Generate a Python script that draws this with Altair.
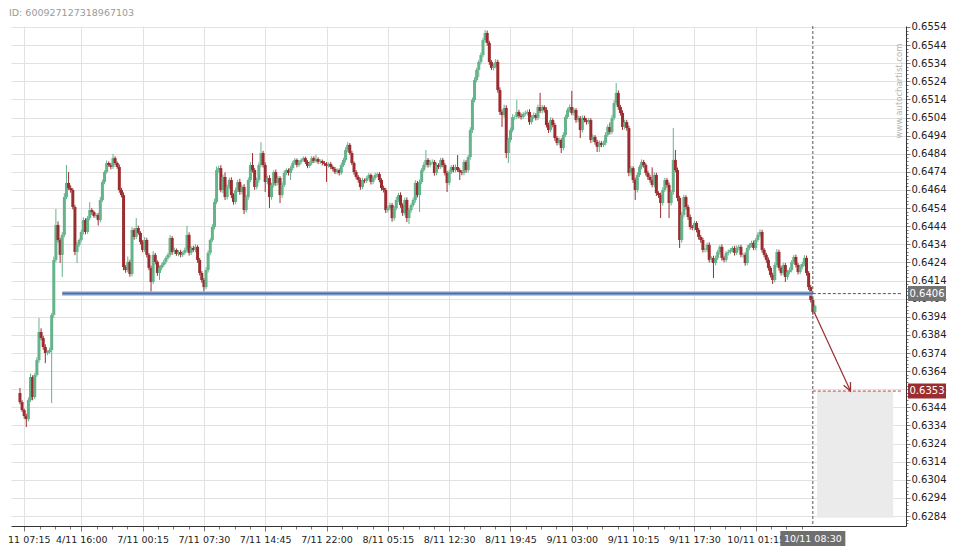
import json
import altair as alt
import pandas as pd

# ---------------- data (prices in 0.0001 units) ----------------
first_open = 6351.9
closes = [
    6346.9, 6342.5, 6339.2, 6337.5, 6348.0, 6360.7, 6349.7, 6361.8, 6370.1, 6385.6,
    6382.3, 6377.3, 6374.0, 6374.5, 6375.6, 6395.0, 6425.4, 6444.7, 6436.4, 6428.2,
    6439.2, 6460.1, 6467.9, 6465.1, 6464.0, 6454.6, 6429.8, 6433.7, 6436.4, 6440.8,
    6447.4, 6440.8, 6448.5, 6452.9, 6451.8, 6449.6, 6450.2, 6447.4, 6458.5, 6468.4,
    6473.9, 6478.9, 6477.8, 6476.7, 6481.6, 6478.9, 6476.7, 6464.0, 6461.2, 6421.5,
    6419.8, 6424.3, 6417.6, 6441.9, 6438.1, 6443.0, 6440.3, 6435.3, 6430.9, 6436.4,
    6428.2, 6421.0, 6413.2, 6428.2, 6424.3, 6418.2, 6421.0, 6422.6, 6424.3, 6426.5,
    6428.2, 6437.5, 6429.8, 6430.9, 6428.7, 6429.8, 6428.2, 6429.3, 6430.9, 6439.2,
    6429.3, 6432.0, 6430.9, 6432.6, 6425.4, 6418.2, 6414.3, 6410.4, 6419.8, 6429.3,
    6436.4, 6443.6, 6457.4, 6475.0, 6476.1, 6464.0, 6471.2, 6460.1, 6465.7, 6469.5,
    6461.2, 6457.4, 6464.0, 6468.4, 6462.9, 6465.7, 6452.9, 6460.1, 6469.5, 6477.8,
    6475.0, 6465.7, 6469.5, 6477.8, 6484.4, 6477.8, 6468.4, 6470.6, 6460.1, 6466.8,
    6473.9, 6467.9, 6470.6, 6461.2, 6466.8, 6473.4, 6475.0, 6473.4, 6476.1, 6478.9,
    6480.6, 6477.8, 6479.5, 6480.6, 6481.6, 6479.5, 6477.3, 6478.9, 6481.6, 6480.0,
    6481.1, 6479.5, 6480.0, 6478.9, 6478.4, 6477.3, 6478.4, 6476.7, 6475.6, 6473.9,
    6475.0, 6473.4, 6477.8, 6480.6, 6486.1, 6488.9, 6484.4, 6478.9, 6473.9, 6471.2,
    6469.5, 6465.7, 6469.5, 6469.0, 6470.6, 6472.3, 6468.4, 6470.6, 6472.3, 6472.8,
    6469.5, 6465.1, 6464.0, 6452.9, 6454.0, 6455.7, 6448.5, 6454.0, 6458.5, 6461.2,
    6455.7, 6451.3, 6458.5, 6448.5, 6452.9, 6455.7, 6458.5, 6467.9, 6461.2, 6468.4,
    6475.0, 6477.8, 6480.6, 6477.8, 6479.5, 6479.5, 6473.4, 6477.8, 6476.7, 6480.6,
    6477.8, 6473.4, 6467.9, 6473.9, 6476.7, 6475.0, 6476.7, 6475.0, 6473.9, 6473.4,
    6479.5, 6475.0, 6482.2, 6497.1, 6513.7, 6524.7, 6530.3, 6534.7, 6538.5, 6546.8,
    6550.7, 6545.2, 6534.7, 6531.4, 6532.5, 6534.7, 6519.2, 6507.1, 6505.4, 6509.3,
    6484.4, 6491.6, 6497.1, 6504.3, 6504.3, 6507.1, 6504.9, 6504.3, 6506.0, 6506.5,
    6507.1, 6501.5, 6504.3, 6505.4, 6503.8, 6509.8, 6507.6, 6509.8, 6508.2, 6499.9,
    6497.1, 6502.6, 6499.9, 6492.7, 6490.0, 6491.6, 6487.2, 6494.4, 6504.3, 6508.2,
    6509.8, 6506.5, 6508.2, 6502.6, 6503.8, 6497.1, 6503.8, 6502.6, 6501.5, 6502.6,
    6491.6, 6493.3, 6490.5, 6487.8, 6490.0, 6488.9, 6490.0, 6494.4, 6498.8, 6496.0,
    6503.8, 6512.0, 6517.6, 6509.8, 6506.5, 6498.8, 6501.5, 6498.2, 6473.4, 6476.1,
    6469.5, 6464.0, 6472.3, 6476.7, 6479.5, 6477.8, 6473.4, 6471.2, 6469.5, 6466.8,
    6472.3, 6462.3, 6461.2, 6456.8, 6464.0, 6469.5, 6466.8, 6456.8, 6462.9, 6480.6,
    6475.0, 6459.6, 6436.4, 6450.2, 6460.1, 6454.6, 6449.1, 6443.6, 6443.0, 6445.8,
    6441.9, 6438.1, 6436.4, 6430.9, 6430.9, 6433.7, 6425.4, 6426.5, 6423.7, 6426.5,
    6429.8, 6432.6, 6426.5, 6425.4, 6429.3, 6429.8, 6430.9, 6432.0, 6429.3, 6432.0,
    6432.6, 6428.2, 6428.2, 6423.7, 6432.0, 6433.7, 6434.8, 6432.0, 6436.4, 6439.2,
    6440.8, 6430.9, 6428.2, 6425.4, 6421.0, 6417.1, 6414.3, 6422.6, 6429.8, 6421.0,
    6418.2, 6422.6, 6416.0, 6418.7, 6419.8, 6424.3, 6427.0, 6422.6, 6418.7, 6421.5,
    6423.2, 6426.5, 6418.2, 6410.4, 6403.3, 6396.6, 6399.9,
]
# upper wick above the body top, lower wick below the body bottom (0.0001 units)
wick_up = [
    2.8, 1.0, 0.8, 1.2, 1.5, 2.0, 1.0, 1.1, 1.5, 7.7,
    2.0, 1.2, 1.5, 1.0, 1.3, 1.1, 1.8, 8.8, 2.0, 1.2,
    1.5, 2.2, 9.9, 6.0, 1.5, 1.0, 1.2, 1.4, 0.9, 1.3,
    1.5, 1.0, 1.2, 4.4, 1.1, 0.8, 1.0, 1.2, 1.6, 1.3,
    1.0, 1.4, 0.9, 1.2, 2.3, 1.0, 0.8, 1.4, 1.2, 1.5,
    1.0, 3.0, 1.2, 1.5, 1.1, 5.5, 1.3, 0.9, 1.0, 1.6,
    1.2, 1.0, 1.3, 2.0, 1.1, 0.8, 1.4, 1.0, 1.2, 0.9,
    1.1, 1.6, 1.0, 1.3, 0.8, 1.0, 1.2, 0.9, 1.3, 5.0,
    1.4, 1.0, 1.2, 1.5, 0.9, 1.1, 1.0, 1.2, 1.6, 1.3,
    1.0, 1.5, 1.8, 2.0, 1.2, 1.6, 1.4, 2.5, 1.2, 1.3,
    1.5, 1.0, 1.3, 1.2, 1.8, 1.0, 1.5, 1.2, 1.4, 1.6,
    6.6, 1.0, 1.3, 1.4, 6.0, 1.2, 1.5, 1.3, 1.6, 1.2,
    1.0, 1.4, 1.2, 1.0, 1.3, 1.5, 1.0, 0.9, 1.2, 1.1,
    1.0, 0.8, 1.1, 0.9, 1.0, 0.8, 1.0, 0.9, 1.2, 1.0,
    2.5, 0.9, 1.0, 0.8, 1.1, 1.0, 0.9, 1.0, 0.8, 1.1,
    1.0, 0.9, 1.3, 1.2, 1.5, 1.5, 1.0, 1.2, 0.9, 1.1,
    1.0, 1.2, 1.3, 0.9, 1.0, 1.1, 0.8, 1.0, 1.2, 0.9,
    1.1, 1.0, 1.3, 1.2, 1.0, 1.4, 1.1, 1.3, 1.6, 1.2,
    1.5, 1.0, 1.3, 1.4, 1.1, 1.0, 1.3, 1.5, 1.1, 1.4,
    1.2, 1.6, 5.5, 1.0, 1.2, 1.4, 1.1, 1.3, 1.0, 1.2,
    1.1, 1.0, 1.2, 1.3, 1.0, 1.2, 1.4, 6.6, 1.0, 1.1,
    1.3, 1.0, 1.2, 1.5, 1.3, 1.6, 1.2, 1.0, 1.4, 1.2,
    1.6, 1.3, 1.2, 1.0, 1.4, 1.6, 1.2, 1.5, 1.3, 1.8,
    1.5, 1.2, 1.4, 1.6, 1.0, 6.6, 1.2, 1.4, 1.0, 1.3,
    1.2, 1.5, 1.1, 1.4, 1.0, 1.3, 7.8, 1.2, 1.0, 1.5,
    1.3, 1.6, 1.0, 1.2, 1.1, 1.4, 1.0, 1.5, 1.3, 1.2,
    1.4, 8.9, 1.2, 1.0, 1.3, 1.1, 1.4, 1.2, 1.0, 1.3,
    1.1, 1.3, 1.0, 1.2, 1.4, 1.0, 1.2, 1.5, 1.3, 2.5,
    1.6, 1.5, 5.5, 1.4, 1.2, 1.5, 1.3, 1.2, 1.4, 1.2,
    1.0, 1.3, 1.5, 1.2, 1.4, 1.1, 1.0, 1.3, 1.2, 7.0,
    1.4, 1.2, 1.0, 1.3, 1.5, 1.2, 1.1, 1.3, 1.2, 17.7,
    5.5, 1.4, 1.2, 1.6, 1.3, 1.0, 1.2, 1.4, 1.1, 1.3,
    1.0, 1.2, 1.1, 1.3, 1.0, 1.2, 1.4, 1.0, 1.2, 1.3,
    1.1, 1.0, 1.4, 1.2, 1.0, 1.3, 1.1, 1.0, 1.2, 1.4,
    1.0, 1.2, 1.1, 1.3, 1.5, 1.0, 1.2, 1.3, 1.1, 1.4,
    1.5, 1.2, 1.0, 1.1, 1.3, 1.0, 1.2, 1.4, 1.6, 1.2,
    1.0, 1.3, 1.1, 1.2, 1.4, 1.0, 1.2, 1.3, 1.1, 1.4,
    1.2, 1.5, 1.3, 1.0, 1.2, 1.4, 0.8,
]
wick_dn = [
    1.2, 1.0, 1.5, 4.4, 1.3, 1.0, 1.8, 1.2, 1.0, 1.5,
    1.3, 1.5, 5.6, 1.2, 1.0, 29.2, 1.5, 1.2, 1.4, 4.5,
    12.2, 1.3, 1.2, 1.0, 1.5, 1.3, 1.8, 6.1, 1.2, 1.0,
    1.4, 1.3, 1.0, 1.2, 1.5, 1.0, 1.2, 3.0, 1.3, 1.1,
    1.2, 0.9, 1.0, 1.3, 1.1, 1.2, 1.0, 1.5, 1.3, 1.8,
    1.5, 1.2, 1.5, 1.3, 1.6, 1.2, 1.0, 1.4, 1.3, 1.1,
    1.5, 1.3, 5.5, 1.2, 1.4, 1.6, 3.9, 1.3, 1.0, 1.2,
    1.0, 1.3, 1.5, 1.2, 1.0, 1.3, 1.4, 1.1, 1.0, 1.2,
    1.5, 1.2, 1.0, 1.3, 1.6, 1.4, 1.5, 3.3, 1.2, 1.4,
    1.3, 1.1, 1.4, 1.2, 1.5, 1.3, 1.8, 1.6, 1.4, 1.2,
    1.7, 1.5, 1.3, 1.2, 1.6, 1.4, 2.2, 1.3, 1.5, 1.2,
    1.4, 1.6, 1.3, 1.5, 1.2, 1.4, 5.5, 1.3, 6.0, 1.5,
    1.3, 1.6, 1.4, 4.4, 1.5, 1.2, 1.3, 1.4, 3.9, 1.2,
    1.1, 1.3, 1.0, 1.2, 0.9, 1.1, 1.3, 1.0, 1.2, 1.1,
    1.0, 1.2, 1.1, 1.3, 1.2, 8.8, 1.0, 1.2, 1.3, 1.1,
    1.2, 1.4, 1.0, 1.1, 1.3, 1.2, 1.0, 1.2, 1.4, 1.3,
    1.5, 1.6, 1.2, 1.3, 1.1, 1.0, 1.4, 1.2, 1.0, 1.2,
    1.3, 1.5, 1.4, 1.6, 1.3, 1.2, 2.0, 1.4, 1.2, 1.3,
    1.5, 1.6, 1.3, 2.2, 3.3, 1.4, 1.2, 1.5, 1.3, 9.4,
    1.2, 1.1, 1.3, 1.4, 1.2, 1.0, 1.5, 1.3, 1.2, 1.0,
    1.3, 1.4, 5.0, 1.2, 1.1, 1.3, 1.2, 1.0, 4.4, 1.3,
    1.2, 1.5, 1.3, 1.4, 1.6, 1.3, 1.2, 3.9, 1.4, 1.2,
    1.3, 1.5, 1.6, 1.2, 1.4, 1.3, 1.5, 1.6, 6.6, 1.3,
    2.8, 5.5, 1.3, 1.2, 1.5, 1.2, 1.3, 1.4, 1.1, 1.2,
    1.3, 1.5, 1.2, 1.0, 1.4, 1.2, 1.1, 1.3, 1.5, 1.4,
    1.6, 1.2, 1.3, 1.5, 1.4, 1.2, 2.8, 1.3, 1.2, 1.1,
    1.3, 1.2, 1.4, 1.5, 1.2, 4.4, 1.3, 1.2, 1.4, 1.1,
    1.6, 1.3, 1.5, 2.8, 2.8, 1.3, 1.2, 1.4, 1.1, 1.3,
    1.2, 1.4, 1.3, 1.5, 1.4, 1.6, 1.3, 1.5, 1.8, 1.4,
    1.6, 5.5, 1.4, 1.2, 1.3, 1.5, 1.4, 1.6, 1.5, 1.3,
    1.4, 1.6, 1.5, 8.3, 1.4, 1.2, 1.5, 8.3, 1.4, 1.5,
    1.3, 1.8, 4.4, 1.5, 1.3, 1.4, 1.6, 1.5, 1.2, 1.4,
    1.3, 1.5, 1.6, 1.4, 1.3, 1.2, 1.5, 1.4, 8.3, 1.3,
    1.2, 1.4, 1.5, 1.3, 1.2, 1.4, 1.1, 1.3, 1.5, 1.2,
    1.4, 1.3, 1.6, 1.5, 1.2, 1.3, 1.4, 1.2, 1.3, 1.1,
    1.3, 1.5, 1.4, 1.6, 1.5, 1.4, 2.2, 1.3, 1.2, 1.5,
    1.4, 1.3, 2.8, 1.5, 1.2, 1.3, 1.1, 1.4, 1.3, 1.2,
    1.3, 1.2, 1.5, 1.6, 1.4, 1.5, 1.0,
]

x_tick_pos = [2, 29, 58, 87, 116, 145, 174, 203, 232, 261, 290, 319, 348]
x_tick_labels = ["4/11 07:15", "4/11 16:00", "7/11 00:15", "7/11 07:30", "7/11 14:45",
                 "7/11 22:00", "8/11 05:15", "8/11 12:30", "8/11 19:45", "9/11 03:00",
                 "9/11 10:15", "9/11 17:30", "10/11 01:15"]
current_idx = 375
current_label = "10/11 08:30"

y_tick_labels = ["0.6284", "0.6294", "0.6304", "0.6314", "0.6324", "0.6334", "0.6344",
                 "0.6354", "0.6364", "0.6374", "0.6384", "0.6394", "0.6404", "0.6414",
                 "0.6424", "0.6434", "0.6444", "0.6454", "0.6464", "0.6474", "0.6484",
                 "0.6494", "0.6504", "0.6514", "0.6524", "0.6534", "0.6544", "0.6554"]

support_level = 0.64068
support_text = "0.6406"
support_start = 20
target_level = 0.6353
target_text = "0.6353"
target_box = {"i0": 377, "i1": 413, "p0": 0.6353, "p1": 0.6283}
arrow_start = {"i": 375.6, "p": 0.63966}
arrow_end = {"i": 392.8, "p": 0.63530}
id_text = "ID: 600927127318967103"
watermark = "www.autochartist.com"

GREEN = "#64b38b"
RED = "#9b2d30"

# ---------------- table ----------------
opens = [first_open] + closes[:-1]
rows = []
for i, (o, c, wu, wd) in enumerate(zip(opens, closes, wick_up, wick_dn)):
    rows.append({
        "i": i,
        "o": o / 10000, "c": c / 10000,
        "h": (max(o, c) + wu) / 10000, "l": (min(o, c) - wd) / 10000,
        "dir": "up" if c >= o else "down",
    })
df = pd.DataFrame(rows)

W, H = 895, 500
x_dom = [-1.87, 416.7]
y_dom = [0.627848, 0.655455]
xs = alt.Scale(domain=x_dom, nice=False, zero=False)
ys = alt.Scale(domain=y_dom, nice=False, zero=False)

minor_x = []
for m in x_tick_pos:
    minor_x += [m + 7.25, m + 14.5, m + 21.75]
x_values = sorted(x_tick_pos + minor_x)
xv = json.dumps(x_tick_pos)
xl = json.dumps(x_tick_labels)
x_major_test = f"indexof({xv}, datum.value) >= 0"

y_values = [round(0.6280 + 0.0002 * k, 4) for k in range(138)]
y_major_test = "round(datum.value * 10000) % 10 == 4"

xaxis = alt.Axis(
    values=x_values, title=None,
    labelExpr=f"{x_major_test} ? {xl}[indexof({xv}, datum.value)] : ''",
    grid=True, gridColor="#e2e2e2",
    gridOpacity={"condition": {"test": x_major_test, "value": 1}, "value": 0},
    tickSize={"condition": {"test": x_major_test, "value": 5}, "value": 3},
    tickColor="#777", domainColor="#333", labelColor="#222",
    labelFont="DejaVu Sans", labelFontSize=9.5, labelPadding=3,
    labelOverlap=False, labelFlush=False, labelBound=False,
)
yaxis = alt.Axis(
    values=y_values, orient="right", title=None,
    labelExpr=f"{y_major_test} ? format(datum.value, '.4f') : ''",
    grid=True, gridColor="#e2e2e2",
    gridOpacity={"condition": {"test": y_major_test, "value": 1}, "value": 0},
    tickSize={"condition": {"test": y_major_test, "value": 4}, "value": 2},
    tickColor="#777", domainColor="#333", labelColor="#222",
    labelFont="DejaVu Sans", labelFontSize=10, labelPadding=1,
    labelOverlap=False, labelBaseline="middle",
)


def X(field, **kw):
    return alt.X(field, type="quantitative", scale=xs, axis=xaxis, **kw)


def Y(field, **kw):
    return alt.Y(field, type="quantitative", scale=ys, axis=yaxis, **kw)


color = alt.Color("dir:N", scale=alt.Scale(domain=["up", "down"], range=[GREEN, RED]), legend=None)

base = alt.Chart(df)
wicks = base.mark_rule(strokeWidth=1).encode(x=X("i"), y=Y("l"), y2="h", color=color)
bodies = base.mark_bar(size=3).encode(x=X("i"), y=Y("o"), y2="c", color=color)

# target zone
zone_df = pd.DataFrame([target_box])
zone = alt.Chart(zone_df).mark_rect(color="#ebebeb").encode(
    x=X("i0"), x2="i1", y=Y("p0"), y2="p1")

# support line
sup_df = pd.DataFrame([{"i0": support_start, "i1": current_idx, "p": support_level}])
sup_glow = alt.Chart(sup_df).mark_rule(color="#a8bbdb", strokeWidth=4.5).encode(
    x=X("i0"), x2="i1", y=Y("p"))
sup_line = alt.Chart(sup_df).mark_rule(color="#4a70ad", strokeWidth=2).encode(
    x=X("i0"), x2="i1", y=Y("p"))

# dashed extensions to the right axis
ext_s = alt.Chart(pd.DataFrame([{"i0": current_idx, "i1": x_dom[1], "p": support_level}])).mark_rule(
    strokeWidth=1, strokeDash=[3, 2], color="#555555").encode(x=X("i0"), x2="i1", y=Y("p"))
ext_t = alt.Chart(pd.DataFrame([{"i0": current_idx, "i1": x_dom[1], "p": target_level}])).mark_rule(
    strokeWidth=1, strokeDash=[3, 2], color="#b5484b").encode(x=X("i0"), x2="i1", y=Y("p"))

# vertical current-time line
cur_df = pd.DataFrame([{"i": current_idx}])
cur = alt.Chart(cur_df).mark_rule(color="#555555", strokeWidth=1, strokeDash=[3, 2]).encode(
    x=X("i"), y=alt.value(0), y2=alt.value(H))

# arrow
arr_df = pd.DataFrame([
    {"i": arrow_start["i"], "p": arrow_start["p"], "o": 0},
    {"i": arrow_end["i"], "p": arrow_end["p"], "o": 1},
])
arrow = alt.Chart(arr_df).mark_line(color=RED, strokeWidth=1.2).encode(
    x=X("i"), y=Y("p"), order="o:Q")
head = alt.Chart(pd.DataFrame([arrow_end])).mark_point(
    shape="M -0.47 -1 L 0 0 L 0.47 -1", filled=False, color=RED, strokeWidth=1.3,
    size=260, angle=335, opacity=1).encode(x=X("i"), y=Y("p"))

# right-hand price labels
def price_label(level, text, fill):
    d = pd.DataFrame([{"p": level, "t": text}])
    box = alt.Chart(d).mark_tick(orient="horizontal", size=38, thickness=15, opacity=1, color=fill).encode(
        x=alt.value(916), y=Y("p"))
    txt = alt.Chart(d).mark_text(color="white", font="DejaVu Sans", fontSize=10,
                                 align="center", baseline="middle").encode(
        x=alt.value(916), y=Y("p"), text="t:N")
    return box, txt


sbox, stxt = price_label(support_level, support_text, "#737373")
tbox, ttxt = price_label(target_level, target_text, RED)

# current time label at the bottom
ct_df = pd.DataFrame([{"i": current_idx, "t": current_label}])
ct_box = alt.Chart(ct_df).mark_tick(orient="vertical", size=15, thickness=65, color="#6e6e6e", opacity=1).encode(
    x=X("i"), y=alt.value(H + 12.5))
ct_txt = alt.Chart(ct_df).mark_text(color="white", font="DejaVu Sans", fontSize=9.5,
                                    align="center", baseline="middle").encode(
    x=X("i"), y=alt.value(H + 13), text="t:N")

# texts
idt = alt.Chart(pd.DataFrame([{"t": id_text}])).mark_text(
    color="#9a9a9a", font="DejaVu Sans", fontSize=9.5, align="left", baseline="middle").encode(
    x=alt.value(-2), y=alt.value(-13), text="t:N")
wm = alt.Chart(pd.DataFrame([{"t": watermark}])).mark_text(
    color="#b5b5b5", font="DejaVu Sans", fontSize=8.5, angle=270, align="center", baseline="middle").encode(
    x=alt.value(888), y=alt.value(65), text="t:N")

chart = alt.layer(
    zone, wicks, bodies, sup_glow, sup_line, ext_s, ext_t, cur, arrow, head,
    sbox, stxt, tbox, ttxt, ct_box, ct_txt, idt, wm,
).properties(
    width=W, height=H,
    autosize=alt.AutoSizeParams(type="none"),
    padding={"left": 3, "top": 18, "right": 46, "bottom": 24},
    background="white",
).configure_view(stroke=None)

chart.save("out.html", embed_options={"renderer": "svg", "actions": False})
